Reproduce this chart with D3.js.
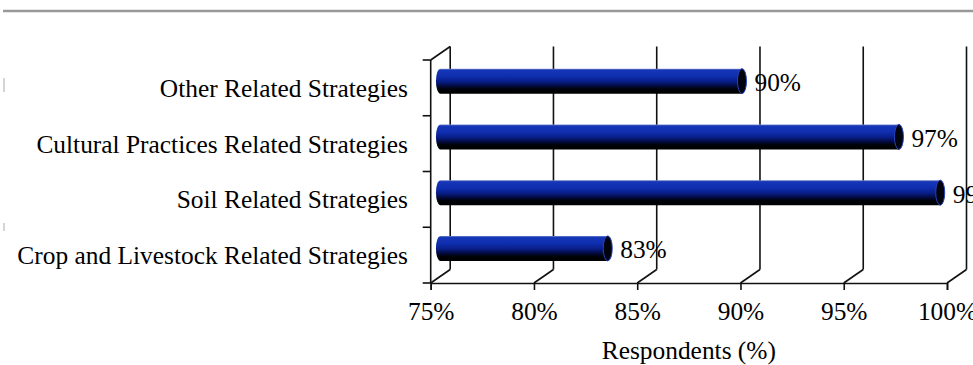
<!DOCTYPE html>
<html>
<head>
<meta charset="utf-8">
<script src="https://cdn.jsdelivr.net/npm/d3@7"></script>
<style>
	body { margin: 0; background: #fff; }
	svg { display: block; }
	text { font-family: "Liberation Serif", "Times New Roman", serif; fill: #000; }
</style>
</head>
<body>
<div id="chart"></div>
<script>
var categories = ["Other Related Strategies", "Cultural Practices Related Strategies", "Soil Related Strategies", "Crop and Livestock Related Strategies"];
var values = [89.6, 97.2, 99.2, 83.1];
var xTicks = [75, 80, 85, 90, 95, 100];
var xTitle = "Respondents (%)";

var width = 973, height = 365;
var front = { left: 430.7, right: 947, top: 60, bottom: 283 };
var depth = { dx: 19.5, dy: -13.5 };
var barHalf = 12.5, capRx = 4.5;
var fontSize = "25.4px";

var svg = d3.select("#chart").append("svg")
	.attr("width", width)
	.attr("height", height);

var x = d3.scaleLinear()
	.domain([75, 100])
	.range([front.left, front.right]);

var y = d3.scaleBand()
	.domain(categories)
	.range([front.top, front.bottom]);

// gradient for the cylinders
var grad = svg.append("defs").append("linearGradient")
	.attr("id", "cyl")
	.attr("x1", 0).attr("y1", 0).attr("x2", 0).attr("y2", 1);
[["0%", "#7f8fd0"], ["6%", "#1636b8"], ["30%", "#0f2eb0"], ["52%", "#081e88"], ["68%", "#030c45"], ["82%", "#000208"], ["100%", "#000000"]]
	.forEach(function(s) { grad.append("stop").attr("offset", s[0]).attr("stop-color", s[1]); });

// top rule
svg.append("line")
	.attr("x1", 3).attr("x2", width)
	.attr("y1", 11).attr("y2", 11)
	.style("stroke", "#999").style("stroke-width", 2.5);

// little marks on the left edge
[[78, 92], [223, 231]].forEach(function(m)
{
	svg.append("line")
		.attr("x1", 4).attr("x2", 4).attr("y1", m[0]).attr("y2", m[1])
		.style("stroke", "#aaa").style("stroke-width", 1);
});

var grid = svg.append("g")
	.style("stroke", "#111")
	.style("stroke-width", 1.6)
	.style("fill", "none");

// back plane verticals and floor diagonals
xTicks.forEach(function(t)
{
	grid.append("line")
		.attr("x1", x(t) + depth.dx).attr("x2", x(t) + depth.dx)
		.attr("y1", front.top + depth.dy).attr("y2", front.bottom + depth.dy);
	grid.append("line")
		.attr("x1", x(t)).attr("x2", x(t) + depth.dx)
		.attr("y1", front.bottom).attr("y2", front.bottom + depth.dy);
});

// left wall edges
grid.append("line")
	.attr("x1", x(75)).attr("x2", x(75) + depth.dx)
	.attr("y1", front.top).attr("y2", front.top + depth.dy);
grid.append("line")
	.attr("x1", x(75)).attr("x2", x(75))
	.attr("y1", front.top).attr("y2", front.bottom);

// category ticks on the front left edge
d3.range(categories.length + 1).forEach(function(i)
{
	var yy = front.top + i * y.step();
	grid.append("line")
		.attr("x1", x(75) - 8).attr("x2", x(75))
		.attr("y1", yy).attr("y2", yy);
});

// bottom axis
var xAxis = svg.append("g")
	.attr("transform", "translate(0," + front.bottom + ")")
	.call(d3.axisBottom(x)
		.tickValues(xTicks)
		.tickSize(7)
		.tickFormat(function(d) { return d + "%"; }));

xAxis.select(".domain").style("stroke", "#111").style("stroke-width", 1.6);
xAxis.selectAll(".tick line").style("stroke", "#111").style("stroke-width", 1.6);
xAxis.selectAll(".tick text")
	.attr("y", 37)
	.attr("dy", 0)
	.style("font-size", fontSize)
	.style("font-family", "'Liberation Serif', 'Times New Roman', serif")
	.style("fill", "#000");

svg.append("text")
	.attr("x", (front.left + front.right) / 2)
	.attr("y", 359)
	.attr("text-anchor", "middle")
	.style("font-size", fontSize)
	.text(xTitle);

// category labels
svg.selectAll(".cat")
	.data(categories)
	.enter()
	.append("text")
	.attr("class", "cat")
	.attr("x", 408)
	.attr("y", function(d) { return y(d) + y.bandwidth() / 2 + 9; })
	.attr("text-anchor", "end")
	.style("font-size", fontSize)
	.text(function(d) { return d; });

// bars
var bars = svg.selectAll(".bar")
	.data(categories.map(function(c, i) { return { cat: c, v: values[i] }; }))
	.enter()
	.append("g")
	.attr("class", "bar");

function cy(d) { return y(d.cat) + y.bandwidth() / 2 + depth.dy / 2; }
function x0() { return x(75) + depth.dx / 2; }
function x1(d) { return x(d.v) + depth.dx / 2; }

bars.append("path")
	.attr("d", function(d)
	{
		var c = cy(d);
		return "M" + x1(d) + "," + (c - barHalf) +
			"L" + x0() + "," + (c - barHalf) +
			"A" + capRx + "," + barHalf + " 0 0 0 " + x0() + "," + (c + barHalf) +
			"L" + x1(d) + "," + (c + barHalf) + "Z";
	})
	.style("fill", "url(#cyl)");

bars.append("ellipse")
	.attr("cx", x1)
	.attr("cy", cy)
	.attr("rx", capRx)
	.attr("ry", barHalf)
	.style("fill", "#01030f")
	.style("stroke", "#2444bc")
	.style("stroke-width", 1);

bars.append("text")
	.attr("x", function(d) { return x1(d) + capRx + 8; })
	.attr("y", function(d) { return cy(d) + 10; })
	.style("font-size", fontSize)
	.text(function(d) { return d3.format(".0f")(d.v) + "%"; });
</script>
</body>
</html>
